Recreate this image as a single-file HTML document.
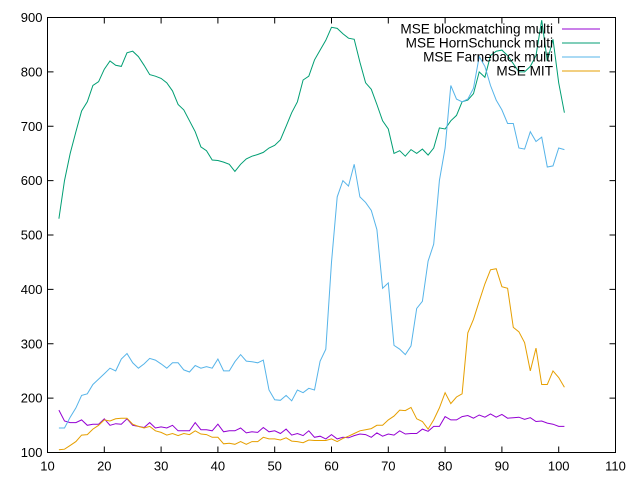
<!DOCTYPE html>
<html><head><meta charset="utf-8"><style>
body{margin:0;background:#fff}
svg{display:block;font-family:"Liberation Sans",sans-serif;font-size:13px}
</style></head><body>
<svg id="chart" width="640" height="480" viewBox="0 0 640 480" xmlns="http://www.w3.org/2000/svg">
<rect width="640" height="480" fill="#fff"/>
<g id="axes"></g>
<g id="series"></g>
<g id="legend" style="font-size:13.6px"></g>
</svg>
<script>
const xStart = 12;
const blockmatching = [178,158,155,155,160,150,152,152,162,150,153,152,162,150,148,146,155,145,147,145,150,140,140,140,155,142,142,140,152,138,140,140,145,136,138,137,146,138,140,135,143,132,135,131,140,128,130,125,133,125,128,127,131,134,133,128,136,130,134,132,140,134,135,135,143,139,148,148,166,160,160,166,168,163,169,165,171,165,170,163,164,165,161,164,157,158,154,152,148,148];
const hornSchunck = [530,600,650,690,728,745,775,782,805,820,812,810,835,838,828,812,795,792,788,780,765,740,730,710,690,662,655,638,637,634,630,617,630,640,645,648,652,660,665,675,700,725,745,785,792,822,840,858,882,880,870,862,860,818,780,768,740,710,695,650,655,645,657,650,658,647,660,697,695,710,720,745,748,760,800,790,830,838,840,830,815,800,800,810,830,895,820,860,780,725];
const farneback = [145,145,165,182,205,208,225,235,245,255,250,272,282,265,255,263,273,270,263,255,265,265,252,248,260,255,258,255,272,250,250,267,280,268,267,265,270,215,197,196,205,195,215,210,218,215,268,290,450,570,600,590,630,570,560,545,510,402,412,297,290,280,296,365,378,452,483,600,660,775,750,745,750,770,828,810,775,748,730,705,705,660,658,690,672,680,625,627,660,657];
const mit = [105,106,113,120,132,133,143,150,160,158,162,163,163,152,148,145,148,140,137,132,135,131,135,133,140,134,133,128,128,116,117,115,120,115,120,120,128,125,125,123,127,121,120,118,123,122,122,122,125,120,126,130,135,140,142,144,150,150,160,167,178,177,183,162,157,143,160,182,210,190,202,208,320,345,378,410,436,438,405,402,330,322,302,250,292,225,225,250,238,220];
const xTicks = [10,20,30,40,50,60,70,80,90,100,110];
const yTicks = [100,200,300,400,500,600,700,800,900];
const seriesNames = ["MSE blockmatching multi","MSE HornSchunck multi","MSE Farneback multi","MSE MIT"];
const seriesColors = ["#9400d3","#009e73","#56b4e9","#e69f00"];

const L=47.5,R=615.5,T=17.5,B=452.5;
const xs=v=>L+(v-10)/100*(R-L);
const ys=v=>B-(v-100)/800*(B-T);
const NS="http://www.w3.org/2000/svg";
function mk(tag,attrs,parent){const e=document.createElementNS(NS,tag);for(const k in attrs)e.setAttribute(k,attrs[k]);parent.appendChild(e);return e;}
const axes=document.getElementById('axes');
const frame=mk('rect',{x:L,y:T,width:R-L,height:B-T,fill:'none',stroke:'#000','stroke-width':1},axes);


xTicks.forEach(t=>{
  const x=xs(t);
  const l1=mk('path',{d:`M${x},${B}v-6M${x},${T}v6`,stroke:'#000'},axes);
  
  
  const tx=mk('text',{x:x,y:B+18,'text-anchor':'middle'},axes);tx.textContent=t;
  
  
});
yTicks.forEach(t=>{
  const y=ys(t);
  const l1=mk('path',{d:`M${L},${y}h6M${R},${y}h-6`,stroke:'#000'},axes);
  
  
  const tx=mk('text',{x:L-5,y:y+4.5,'text-anchor':'end'},axes);tx.textContent=t;
  
  
});
const all=[blockmatching,hornSchunck,farneback,mit];
const sg=document.getElementById('series');
all.forEach((arr,i)=>{
  const pts=arr.map((v,j)=>xs(xStart+j).toFixed(1)+','+ys(v).toFixed(1)).join(' ');
  const p=mk('polyline',{points:pts,fill:'none',stroke:seriesColors[i],'stroke-width':1},sg);
  
  
});
const lg=document.getElementById('legend');
seriesNames.forEach((n,i)=>{
  const y=29+i*14;
  const tx=mk('text',{x:553,y:y+4.5,'text-anchor':'end'},lg);tx.textContent=n;
  
  
  const ln=mk('line',{x1:562,x2:600,y1:y,y2:y,stroke:seriesColors[i],'stroke-width':1},lg);
  
  
});
</script>
</body></html>
